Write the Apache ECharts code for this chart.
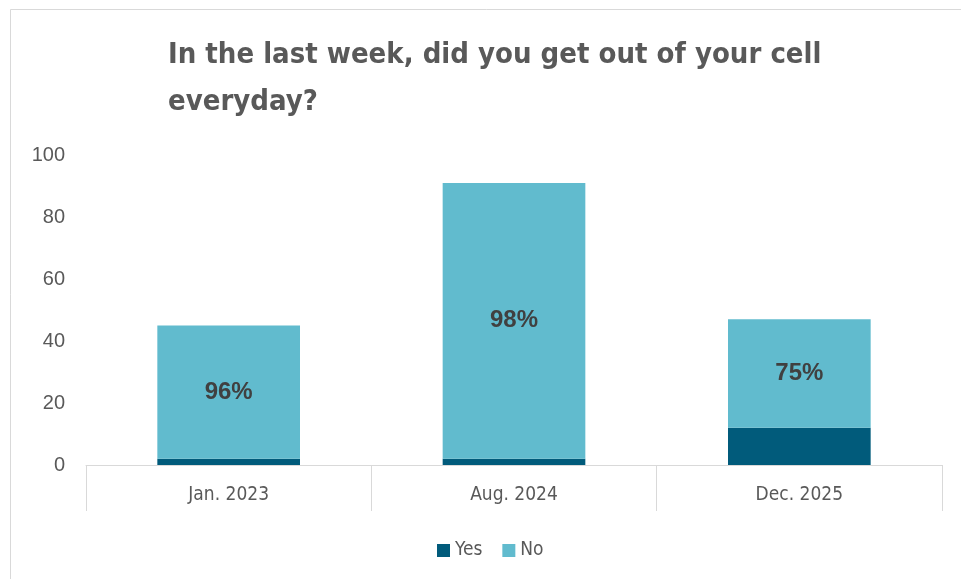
<!DOCTYPE html>
<html>
<head>
<meta charset="utf-8">
<script src="https://cdn.jsdelivr.net/npm/echarts@6/dist/echarts.min.js"></script>
<style>
  html, body { margin: 0; padding: 0; background: #ffffff; }
  #chart { width: 961px; height: 579px; }
</style>
</head>
<body>
<div id="chart"></div>
<script>
// Survey periods on the category axis
const categories = ['Jan. 2023', 'Aug. 2024', 'Dec. 2025'];
// Response counts per period
const yesCounts = [2, 2, 12];
const noCounts = [43, 89, 35];
// Share of "No" answers as reported, in percent
const noShareLabels = [96, 98, 75];
// Value axis ticks
const yMin = 0;
const yMax = 100;
const yStep = 20;

const narrow = '"DejaVu Sans Condensed", "Liberation Sans Narrow", "Liberation Sans", sans-serif';
const textGrey = '#595959';

const chart = echarts.init(document.getElementById('chart'), null, { renderer: 'canvas' });

chart.setOption({
  backgroundColor: '#ffffff',
  animation: false,
  title: {
    text: 'In the last week, did you get out of your cell\neveryday?',
    left: 163,
    top: 27,
    textStyle: {
      fontFamily: narrow,
      fontWeight: 'bold',
      fontSize: 29,
      lineHeight: 47,
      color: textGrey
    }
  },
  graphic: [{
    type: 'rect',
    shape: { x: 10.5, y: 9.5, width: 980, height: 600 },
    style: { fill: 'none', stroke: '#d9d9d9', lineWidth: 1 },
    silent: true
  }],
  legend: {
    data: ['Yes', 'No'],
    left: 432,
    top: 536,
    itemWidth: 13,
    itemHeight: 13,
    itemGap: 20,
    icon: 'rect',
    textStyle: { fontFamily: narrow, fontSize: 19, color: textGrey }
  },
  grid: { left: 86, right: 19, top: 155, bottom: 114 },
  xAxis: {
    type: 'category',
    data: categories,
    axisLine: { show: true, lineStyle: { color: '#d9d9d9', width: 1 } },
    axisTick: { show: true, interval: 0, length: 46, lineStyle: { color: '#d9d9d9', width: 1 } },
    axisLabel: { fontFamily: narrow, fontSize: 19, color: textGrey, margin: 21 }
  },
  yAxis: {
    type: 'value',
    min: yMin,
    max: yMax,
    interval: yStep,
    axisLine: { show: false },
    axisTick: { show: false },
    splitLine: { show: false },
    axisLabel: { fontFamily: '"Liberation Sans", Arial, sans-serif', fontSize: 20, color: textGrey, margin: 21 }
  },
  series: [
    {
      name: 'Yes',
      type: 'bar',
      stack: 'total',
      barWidth: '50%',
      data: yesCounts,
      itemStyle: { color: '#015B7B' }
    },
    {
      name: 'No',
      type: 'bar',
      stack: 'total',
      barWidth: '50%',
      data: noCounts,
      itemStyle: { color: '#61BBCE' },
      label: {
        show: true,
        position: 'inside',
        formatter: p => noShareLabels[p.dataIndex] + '%',
        fontFamily: '"Liberation Sans", Arial, sans-serif',
        fontWeight: 'bold',
        fontSize: 24,
        color: '#404040'
      }
    }
  ]
});
</script>
</body>
</html>
